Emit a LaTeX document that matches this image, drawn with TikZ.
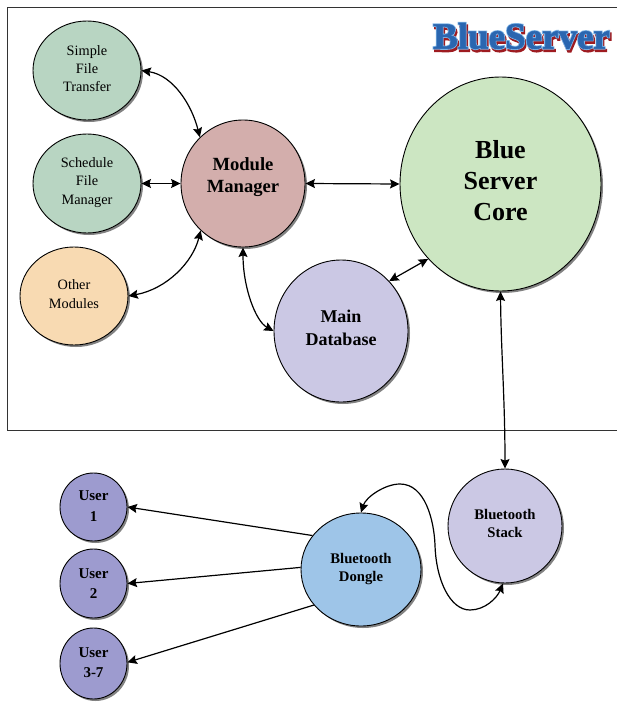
\documentclass[tikz,border=0pt]{standalone}
\usepackage{fontspec}
\setmainfont{Liberation Serif}
\newfontfamily\logofill[FakeBold=1.5]{Liberation Serif Bold}
\newfontfamily\logoedge[FakeBold=6]{Liberation Serif Bold}
\usetikzlibrary{shapes.geometric,shadows,arrows.meta}
\definecolor{cgreen}{HTML}{B8D5C2}
\definecolor{corange}{HTML}{F8DAB2}
\definecolor{crose}{HTML}{D3AEAC}
\definecolor{clav}{HTML}{CBC8E4}
\definecolor{ccore}{HTML}{CCE6C2}
\definecolor{cblue}{HTML}{9EC5E8}
\definecolor{cuser}{HTML}{9D9BCF}
\definecolor{logoblue}{HTML}{2A66B0}
\definecolor{logolight}{HTML}{7FB4E6}
\definecolor{logored}{HTML}{9E1B20}
\newcommand\liftby[1]{\\[\dimexpr2\dimexpr#1\relax-\baselineskip\relax]\mbox{}}
\tikzset{
  x=1pt,y=-1pt,
  blob/.style={ellipse,draw=black,line width=0.9pt,inner sep=0pt,align=center,
    drop shadow={shadow xshift=2pt,shadow yshift=-2pt,fill=black!75,opacity=0.65}},
  plain/.style={blob,font=\fontsize{14.3}{18.4}\selectfont},
  strong/.style={blob,font=\bfseries\fontsize{18}{22.5}\selectfont},
  small/.style={blob,font=\bfseries\fontsize{14.7}{18}\selectfont},
  usernode/.style={blob,font=\bfseries\fontsize{15}{20.5}\selectfont,fill=cuser,minimum width=67pt},
  link/.style={line width=1.2pt,{Stealth[length=9.5pt,width=9pt,inset=1.5pt]}-{Stealth[length=9.5pt,width=9pt,inset=1.5pt]}},
  oneway/.style={line width=1.2pt,-{Stealth[length=9.5pt,width=9pt,inset=1.5pt]}},
  logotext/.style={inner sep=0pt,anchor=center}
}
\begin{document}
\begin{tikzpicture}
\useasboundingbox (0,0) rectangle (617,704);
\fill[white] (0,0) rectangle (617,704);
\draw[line width=1pt,black!80] (617,7) -- (7,7) -- (7,430) -- (617,430);
% logo
\node[logotext,text=logored] (logoa) at (523,38.5) {\logoedge\fontsize{37}{37}\selectfont BlueServer};
\node[logotext,text=logolight] (logob) at (521.5,36) {\logoedge\fontsize{37}{37}\selectfont BlueServer};
\node[logotext,text=logoblue] (logoc) at (521.5,36) {\logofill\fontsize{37}{37}\selectfont BlueServer};
% nodes
\node[plain,fill=cgreen,minimum width=108pt,minimum height=99pt] (sft) at (87,70.5) {Simple\\File\\Transfer\liftby{2pt}};
\node[plain,fill=cgreen,minimum width=108pt,minimum height=99pt] (sfm) at (87,183.5) {Schedule\\File\\Manager\liftby{2.7pt}};
\node[plain,fill=corange,minimum width=108pt,minimum height=98pt] (oth) at (74,296) {Other\\Modules\liftby{2pt}};
\node[strong,font=\bfseries\fontsize{18.6}{22.5}\selectfont,fill=crose,minimum width=124pt,minimum height=127pt] (mm) at (243,183.5) {Module\\Manager\liftby{8.5pt}};
\node[strong,fill=clav,minimum width=134pt,minimum height=142pt] (db) at (341,331) {Main\\Database\liftby{3pt}};
\node[blob,font=\bfseries\fontsize{26}{31}\selectfont,fill=ccore,minimum width=201pt,minimum height=214pt] (core) at (500.5,184) {Blue\\Server\\Core\liftby{4pt}};
\node[small,fill=clav,minimum width=114pt,minimum height=114pt] (stack) at (505,526) {Bluetooth\\Stack\liftby{3pt}};
\node[small,fill=cblue,minimum width=120pt,minimum height=113pt] (dongle) at (361,569.5) {Bluetooth\\Dongle};
\node[usernode,minimum height=68pt] (u1) at (93.5,507) {User\\1\liftby{1pt}};
\node[usernode,minimum height=69pt] (u2) at (93.5,583.5) {User\\2};
\node[usernode,minimum height=71pt] (u3) at (93.5,663.5) {User\\3-7\liftby{1pt}};
% connectors
\draw[link] (sft.0) .. controls +(32,5) and +(-8,-32) .. (mm.133);
\draw[link] (sfm.0) -- (mm.180);
\draw[link] (oth.0) .. controls +(38,-7) and +(-8,32) .. (mm.228);
\draw[link] (mm.270) .. controls +(0,40) and +(-18,-10) .. (db.180);
\draw[link] (mm.0) -- (core.180);
\draw[link] (db.46) -- (core.226);
\draw[link] (core.270) .. controls (501,350) and (505,400) .. (stack.90);
\draw[link] (dongle.90) .. controls (366,497) and (385,484) .. (400,484)
  .. controls (425,484) and (434,520) .. (435,545)
  .. controls (436,580) and (450,610) .. (470,610)
  .. controls (485,610) and (497,598) .. (stack.268);
\draw[oneway] (dongle.145) -- (u1.0);
\draw[oneway] (dongle.178) -- (u2.0);
\draw[oneway] (dongle.217) -- (u3.2);
\end{tikzpicture}
\end{document}
